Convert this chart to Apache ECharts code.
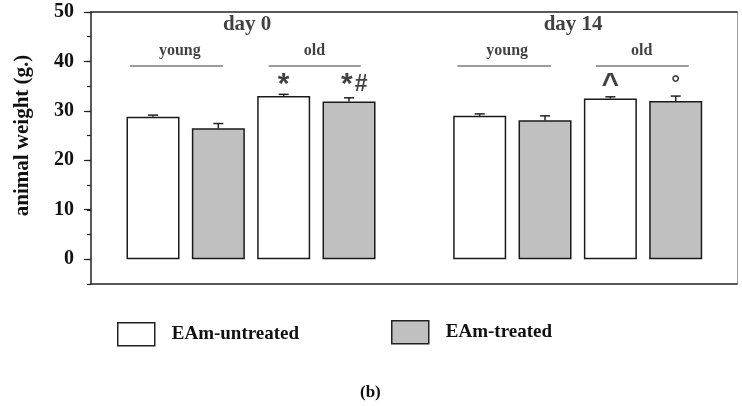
<!DOCTYPE html>
<html><head><meta charset="utf-8">
<script src="https://cdn.jsdelivr.net/npm/echarts@6/dist/echarts.min.js"></script>
<style>html,body{margin:0;padding:0;background:#fff}#c{width:742px;height:406px}</style>
</head><body><div id="c"></div>
<script>
// ---- data ----
const groups = ['day 0 young', 'day 0 old', 'day 14 young', 'day 14 old'];
const dayLabels = ['day 0', 'day 14'];
const ageLabels = ['young', 'old', 'young', 'old'];
const seriesNames = ['EAm-untreated', 'EAm-treated'];
const untreated = [28.8, 33.0, 29.0, 32.5];
const untreatedErr = [0.35, 0.35, 0.4, 0.35];
const treated = [26.5, 31.9, 28.1, 32.0];
const treatedErr = [0.95, 0.75, 0.9, 1.0];
const marksUntreated = ['', '*', '', '^'];
const marksTreated = ['', '*#', '', '°'];
const yTickLabels = [0, 10, 20, 30, 40, 50];

// ---- layout ----
const SERIF = '"Liberation Serif", "Times New Roman", serif';
const SANS = '"Liberation Sans", Arial, sans-serif';
function slot(g, s) { return g * 2 + s + (g >= 2 ? 1 : 0); }
const xMin = -0.949, xMax = 8.938;
const bracketY = 39.2, ageY = 42.1, dayY = 47.5, markY = 35.3;
const bracketSpans = [[-0.35, 1.07], [1.77, 3.18], [4.66, 6.09], [6.78, 8.2]];
const ageX = [0.41, 2.47, 5.42, 7.48];
const dayX = [1.44, 6.43];

const untreatedData = untreated.map((v, g) => [slot(g, 0), v]);
const treatedData = treated.map((v, g) => [slot(g, 1), v]);
const errData = [];
untreated.forEach((v, g) => errData.push([slot(g, 0), v, v + untreatedErr[g]]));
treated.forEach((v, g) => errData.push([slot(g, 1), v, v + treatedErr[g]]));

const textItems = [];
dayLabels.forEach((t, i) => textItems.push({
  value: [dayX[i], dayY],
  label: { formatter: t, fontSize: 21, fontWeight: 'bold', fontFamily: SERIF, color: '#111' }
}));
ageLabels.forEach((t, i) => textItems.push({
  value: [ageX[i], ageY],
  label: { formatter: t, fontSize: 16, fontWeight: 'bold', fontFamily: SERIF, color: '#111' }
}));
const markRich = {
  a: { fontSize: 30, fontWeight: 'bold', fontFamily: SANS, color: '#111' },
  b: { fontSize: 23, fontWeight: 'bold', fontFamily: SANS, color: '#111', padding: [0, 0, 0, 2] },
  c: { fontSize: 30, fontWeight: 'bold', fontFamily: SANS, color: '#111' },
  d: { fontSize: 22, fontWeight: 'bold', fontFamily: SANS, color: '#111' }
};
function markFmt(m) {
  if (m === '*') return '{a|*}';
  if (m === '*#') return '{a|*}{b|#}';
  if (m === '^') return '{c|^}';
  if (m === '°') return '{d|°}';
  return m;
}
function pushMarks(arr, s) {
  arr.forEach((m, g) => {
    if (!m) return;
    textItems.push({
      value: [slot(g, s) + (m.length > 1 ? 0.08 : 0), markY],
      label: { formatter: markFmt(m), rich: markRich }
    });
  });
}
pushMarks(marksUntreated, 0);
pushMarks(marksTreated, 1);

const axisDark = { color: '#222', width: 1.5 };

const option = {
  animation: false,
  backgroundColor: '#fff',
  title: {
    text: '(b)', left: 360, top: 384, padding: 0,
    textStyle: { fontSize: 17, fontWeight: 'bold', fontFamily: SERIF, color: '#111' }
  },
  legend: [
    {
      data: [seriesNames[0]], left: 117, top: 322, padding: 0, itemWidth: 37, itemHeight: 23,
      icon: 'rect', selectedMode: false,
      itemStyle: { borderColor: '#222', borderWidth: 1.5 },
      textStyle: { fontSize: 19, fontWeight: 'bold', fontFamily: SERIF, color: '#111', padding: [0, 0, 0, 12] }
    },
    {
      data: [seriesNames[1]], left: 391, top: 320, padding: 0, itemWidth: 37, itemHeight: 23,
      icon: 'rect', selectedMode: false,
      itemStyle: { borderColor: '#222', borderWidth: 1.5 },
      textStyle: { fontSize: 19, fontWeight: 'bold', fontFamily: SERIF, color: '#111', padding: [0, 0, 0, 12] }
    }
  ],
  grid: [
    { left: 91, right: 5, top: 12, bottom: 122 },
    { left: 91, right: 5, top: 12, bottom: 147 }
  ],
  xAxis: [
    { gridIndex: 0, type: 'value', min: xMin, max: xMax, position: 'bottom',
      axisLine: { show: true, onZero: false, lineStyle: axisDark },
      axisTick: { show: false }, axisLabel: { show: false }, splitLine: { show: false } },
    { gridIndex: 0, type: 'value', min: xMin, max: xMax, position: 'top',
      axisLine: { show: true, onZero: false, lineStyle: axisDark },
      axisTick: { show: false }, axisLabel: { show: false }, splitLine: { show: false } },
    { gridIndex: 1, type: 'value', min: xMin, max: xMax, show: false }
  ],
  yAxis: [
    { gridIndex: 0, type: 'value', min: -5, max: 50, interval: 5, position: 'left',
      axisLine: { show: true, onZero: false, lineStyle: axisDark },
      axisTick: { show: true, length: 4, lineStyle: { color: '#222', width: 1.2 } },
      axisLabel: { show: false }, splitLine: { show: false } },
    { gridIndex: 0, type: 'value', min: -5, max: 50, position: 'right',
      axisLine: { show: true, onZero: false, lineStyle: { color: '#999', width: 1 } },
      axisTick: { show: false }, axisLabel: { show: false }, splitLine: { show: false } },
    { gridIndex: 1, type: 'value', min: yTickLabels[0], max: yTickLabels[yTickLabels.length - 1], interval: 10, position: 'left',
      axisLine: { show: false, onZero: false },
      axisTick: { show: true, length: 7, lineStyle: { color: '#222', width: 1.2 } },
      axisLabel: { show: true, margin: 17, fontSize: 20, fontWeight: 'bold', fontFamily: SERIF, color: '#111' },
      splitLine: { show: false },
      name: 'animal weight (g.)', nameLocation: 'middle', nameGap: 58,
      nameTextStyle: { fontSize: 21, fontWeight: 'bold', fontFamily: SERIF, color: '#111' } }
  ],
  series: [
    { type: 'bar', name: seriesNames[0], xAxisIndex: 0, yAxisIndex: 0, data: untreatedData,
      barWidth: 53, barGap: '-100%',
      itemStyle: { color: '#ffffff', borderColor: '#1a1a1a', borderWidth: 1.5 } },
    { type: 'bar', name: seriesNames[1], xAxisIndex: 0, yAxisIndex: 0, data: treatedData,
      barWidth: 53, barGap: '-100%',
      itemStyle: { color: '#c0c0c0', borderColor: '#1a1a1a', borderWidth: 1.5 } },
    { type: 'custom', name: 'err', xAxisIndex: 0, yAxisIndex: 0, data: errData,
      encode: { x: 0, y: [1, 2] }, z: 5,
      renderItem: function (params, api) {
        const x = api.value(0), lo = api.value(1), hi = api.value(2);
        const p0 = api.coord([x, lo]), p1 = api.coord([x, hi]);
        return { type: 'group', children: [
          { type: 'line', shape: { x1: p0[0], y1: p0[1], x2: p1[0], y2: p1[1] }, style: { stroke: '#222', lineWidth: 1.5 } },
          { type: 'line', shape: { x1: p1[0] - 5, y1: p1[1], x2: p1[0] + 5, y2: p1[1] }, style: { stroke: '#222', lineWidth: 1.5 } }
        ] };
      } },
    { type: 'scatter', name: 'annot', xAxisIndex: 0, yAxisIndex: 0, data: textItems,
      symbol: 'circle', symbolSize: 1, itemStyle: { color: 'rgba(0,0,0,0)' }, silent: true, z: 6,
      label: { show: true, position: 'inside' },
      markLine: {
        silent: true, symbol: ['none', 'none'], label: { show: false },
        lineStyle: { color: '#7a7a7a', width: 1.5, type: 'solid' },
        data: bracketSpans.map(s => [{ coord: [s[0], bracketY] }, { coord: [s[1], bracketY] }])
      } }
  ]
};
const chart = echarts.init(document.getElementById('c'), null, { renderer: 'canvas' });
chart.setOption(option);
</script>
</body></html>
